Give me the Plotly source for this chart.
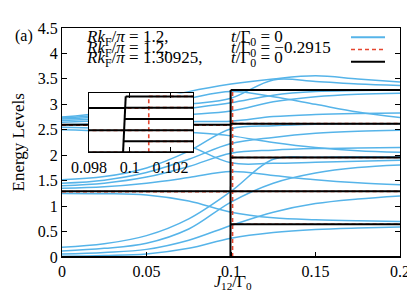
import plotly.graph_objects as go

# ---------------- data ----------------
J_ticks = [0, 0.05, 0.1, 0.15, 0.2]
J_tick_labels = ["0", "0.05", "0.1", "0.15", "0.2"]
E_ticks = [0, 0.5, 1, 1.5, 2, 2.5, 3, 3.5, 4, 4.5]
E_tick_labels = ["0", "0.5", "1", "1.5", "2", "2.5", "3", "3.5", "4", "4.5"]
inset_ticks = [0.098, 0.1, 0.102]
inset_tick_labels = ["0.098", "0.1", "0.102"]

# blue: Rk_F/pi = 1.2, t/Gamma0 = 0  (levels sampled on blue_J)
blue_J = [0, 0.025, 0.05, 0.075, 0.1, 0.125, 0.15, 0.175, 0.2]
blue_B1 = [0.015, 0.03, 0.06, 0.17, 0.37, 0.48, 0.54, 0.57, 0.59]
blue_B2 = [0.06, 0.09, 0.15, 0.33, 0.62, 0.88, 1.05, 1.14, 1.20]
blue_B3 = [0.12, 0.17, 0.27, 0.55, 1.08, 1.45, 1.65, 1.76, 1.81]
blue_B4 = [0.19, 0.26, 0.42, 0.75, 1.29, 1.92, 1.96, 1.97, 1.97]
blue_D1 = [1.25, 1.245, 1.22, 1.10, 0.88, 0.77, 0.73, 0.71, 0.70]
blue_M1 = [1.35, 1.38, 1.45, 1.56, 1.68, 1.60, 1.52, 1.46, 1.42]
blue_M2 = [1.40, 1.45, 1.57, 1.78, 2.04, 2.10, 2.13, 2.14, 2.15]
blue_M3 = [1.45, 1.51, 1.66, 1.92, 2.23, 2.35, 2.43, 2.47, 2.49]
blue_M4 = [1.52, 1.58, 1.75, 2.08, 2.52, 2.58, 2.61, 2.62, 2.62]
blue_U1 = [2.50, 2.47, 2.38, 2.18, 1.85, 1.84, 1.86, 1.88, 1.90]
blue_U2 = [2.55, 2.53, 2.50, 2.45, 2.38, 2.25, 2.15, 2.09, 2.06]
blue_U3 = [2.60, 2.62, 2.64, 2.66, 2.67, 2.76, 2.80, 2.82, 2.83]
blue_U4 = [2.65, 2.68, 2.74, 2.80, 2.87, 3.05, 3.15, 3.20, 3.22]
blue_U5 = [2.68, 2.72, 2.82, 2.92, 3.03, 3.18, 3.25, 3.27, 3.28]
blue_U6 = [2.71, 2.76, 2.88, 3.00, 3.12, 3.48, 3.45, 3.40, 3.37]
blue_U7 = [2.73, 2.80, 2.96, 3.12, 3.25, 3.15, 3.00, 2.85, 2.74]
blue_U8 = [2.75, 2.84, 3.04, 3.25, 3.40, 3.50, 3.56, 3.50, 3.44]
blue_curves = [blue_B1, blue_B2, blue_B3, blue_B4, blue_D1, blue_M1, blue_M2,
               blue_M3, blue_M4, blue_U1, blue_U2, blue_U3, blue_U4, blue_U5,
               blue_U6, blue_U7, blue_U8]

# black: Rk_F/pi = 1.30925, t/Gamma0 = 0  (step at the transition)
black_left_levels = [0.0, 1.29, 2.60]
black_right_levels = [0.0, 0.645, 1.29, 1.955, 2.62, 3.28]
black_jump_J = [0.09967, 0.09980]   # J at bottom / top of the jump
black_jump_E = [0.0, 3.28]

# red dashed: Rk_F/pi = 1.2, t/Gamma0 = -0.2915
red_left_levels = [0.0, 1.285, 2.59]
red_right_levels = [0.0, 0.645, 1.29, 1.955, 2.62, 3.28]
red_jump_J = [0.10093, 0.10093]
red_jump_E = [0.0, 3.28]

J_min, J_max = 0.0, 0.2

# ---------------- figure ----------------
BLUE = "#56B4E9"
RED = "#E5462F"
FONT = "Liberation Serif, Times New Roman, serif"

fig = go.Figure()


def jump_x(jJ, jE, e):
    return jJ[0] + (jJ[1] - jJ[0]) * (e - jE[0]) / (jE[1] - jE[0])


def add_step(left, right, jJ, jE, color, width, dash, xa, ya):
    for e in left:
        fig.add_trace(go.Scatter(x=[J_min, jump_x(jJ, jE, e)], y=[e, e], mode="lines",
                                 line=dict(color=color, width=width, dash=dash),
                                 xaxis=xa, yaxis=ya, showlegend=False, hoverinfo="skip"))
    for e in right:
        fig.add_trace(go.Scatter(x=[jump_x(jJ, jE, e), J_max], y=[e, e], mode="lines",
                                 line=dict(color=color, width=width, dash=dash),
                                 xaxis=xa, yaxis=ya, showlegend=False, hoverinfo="skip"))
    fig.add_trace(go.Scatter(x=jJ, y=jE, mode="lines",
                             line=dict(color=color, width=width, dash=dash),
                             xaxis=xa, yaxis=ya, showlegend=False, hoverinfo="skip"))


# main panel
for c in blue_curves:
    fig.add_trace(go.Scatter(x=blue_J, y=c, mode="lines", line=dict(color=BLUE, width=1.5, shape="spline"),
                             showlegend=False, hoverinfo="skip"))
add_step(red_left_levels, red_right_levels, red_jump_J, red_jump_E, RED, 1.6, "4px,3px", "x", "y")
add_step(black_left_levels, black_right_levels, black_jump_J, black_jump_E, "black", 2, "solid", "x", "y")

# inset
add_step(red_left_levels, red_right_levels, red_jump_J, red_jump_E, RED, 1.6, "4px,3px", "x2", "y2")
add_step(black_left_levels, black_right_levels, black_jump_J, black_jump_E, "black", 2, "solid", "x2", "y2")

axis_common = dict(showgrid=False, zeroline=False, showline=True, linecolor="black", linewidth=1,
                   ticks="inside", ticklen=5, tickcolor="black",
                   tickfont=dict(family=FONT, size=16, color="black"))

fig.update_layout(
    width=415, height=291,
    margin=dict(l=54, r=23, t=15, b=42),
    paper_bgcolor="white", plot_bgcolor="white",
    showlegend=False,
    font=dict(family=FONT, size=16, color="black"),
    xaxis=dict(range=[J_min, J_max], tickvals=J_ticks, ticktext=J_tick_labels, mirror=True,
               domain=[0, 1], **axis_common),
    yaxis=dict(range=[0, 4.5], tickvals=E_ticks, ticktext=E_tick_labels, mirror="allticks",
               domain=[0, 1], **axis_common),
    xaxis2=dict(range=[0.098, 0.1031], tickvals=inset_ticks, ticktext=inset_tick_labels,
                mirror="allticks", domain=[0.0799, 0.3876], anchor="y2", **axis_common),
    yaxis2=dict(range=[0, 3.45], showticklabels=False, ticks="", mirror=True,
                domain=[0.457, 0.714], anchor="x2", showgrid=False, zeroline=False,
                showline=True, linecolor="black", linewidth=1),
)

# white background for inset
fig.add_shape(type="rect", xref="x2 domain", yref="y2 domain", x0=0, x1=1, y0=0, y1=1,
              fillcolor="white", line=dict(width=0), layer="below")

# legend (gnuplot style: text then sample)
leg_left = ["<i>Rk</i><sub>F</sub>/<i>π</i> = 1.2,",
            "<i>Rk</i><sub>F</sub>/<i>π</i> = 1.2,",
            "<i>Rk</i><sub>F</sub>/<i>π</i> = 1.30925,"]
leg_right = ["<i>t</i>/Γ<sub>0</sub> = 0",
             "<i>t</i>/Γ<sub>0</sub> = −0.2915",
             "<i>t</i>/Γ<sub>0</sub> = 0"]
leg_y = [25, 36, 47]
leg_sample_y = [24.5, 37, 49.5]
leg_styles = [dict(color=BLUE, width=2, dash="solid"),
              dict(color=RED, width=1.6, dash="4px,3px"),
              dict(color="black", width=2, dash="solid")]
for i in range(3):
    fig.add_annotation(text=leg_left[i], xref="paper", yref="paper", x=(76 - 54) / 338, y=(249 - leg_y[i]) / 234,
                       xanchor="left", yanchor="middle", showarrow=False,
                       font=dict(family=FONT, size=17, color="black"))
    fig.add_annotation(text=leg_right[i], xref="paper", yref="paper", x=(221 - 54) / 338, y=(249 - leg_y[i]) / 234,
                       xanchor="left", yanchor="middle", showarrow=False,
                       font=dict(family=FONT, size=17, color="black"))
    fig.add_shape(type="line", xref="paper", yref="paper",
                  x0=(343 - 54) / 338, x1=(377 - 54) / 338,
                  y0=(249 - leg_sample_y[i]) / 234, y1=(249 - leg_sample_y[i]) / 234,
                  line=leg_styles[i])

# axis titles and panel label
fig.add_annotation(text="Energy Levels", xref="paper", yref="paper", x=(10 - 54) / 338, y=0.5,
                   textangle=-90, showarrow=False, xanchor="center", yanchor="middle",
                   font=dict(family=FONT, size=17, color="black"))
fig.add_annotation(text="<i>J</i><sub>12</sub>/Γ<sub>0</sub>", xref="paper", yref="paper",
                   x=(225 - 54) / 338, y=(249 - 275) / 234, showarrow=False,
                   xanchor="center", yanchor="middle", font=dict(family=FONT, size=16, color="black"))
fig.add_annotation(text="(a)", xref="paper", yref="paper", x=(16 - 54) / 338, y=(249 - 23) / 234,
                   showarrow=False, xanchor="center", yanchor="middle",
                   font=dict(family=FONT, size=16, color="black"))

fig.write_html("out.html")
